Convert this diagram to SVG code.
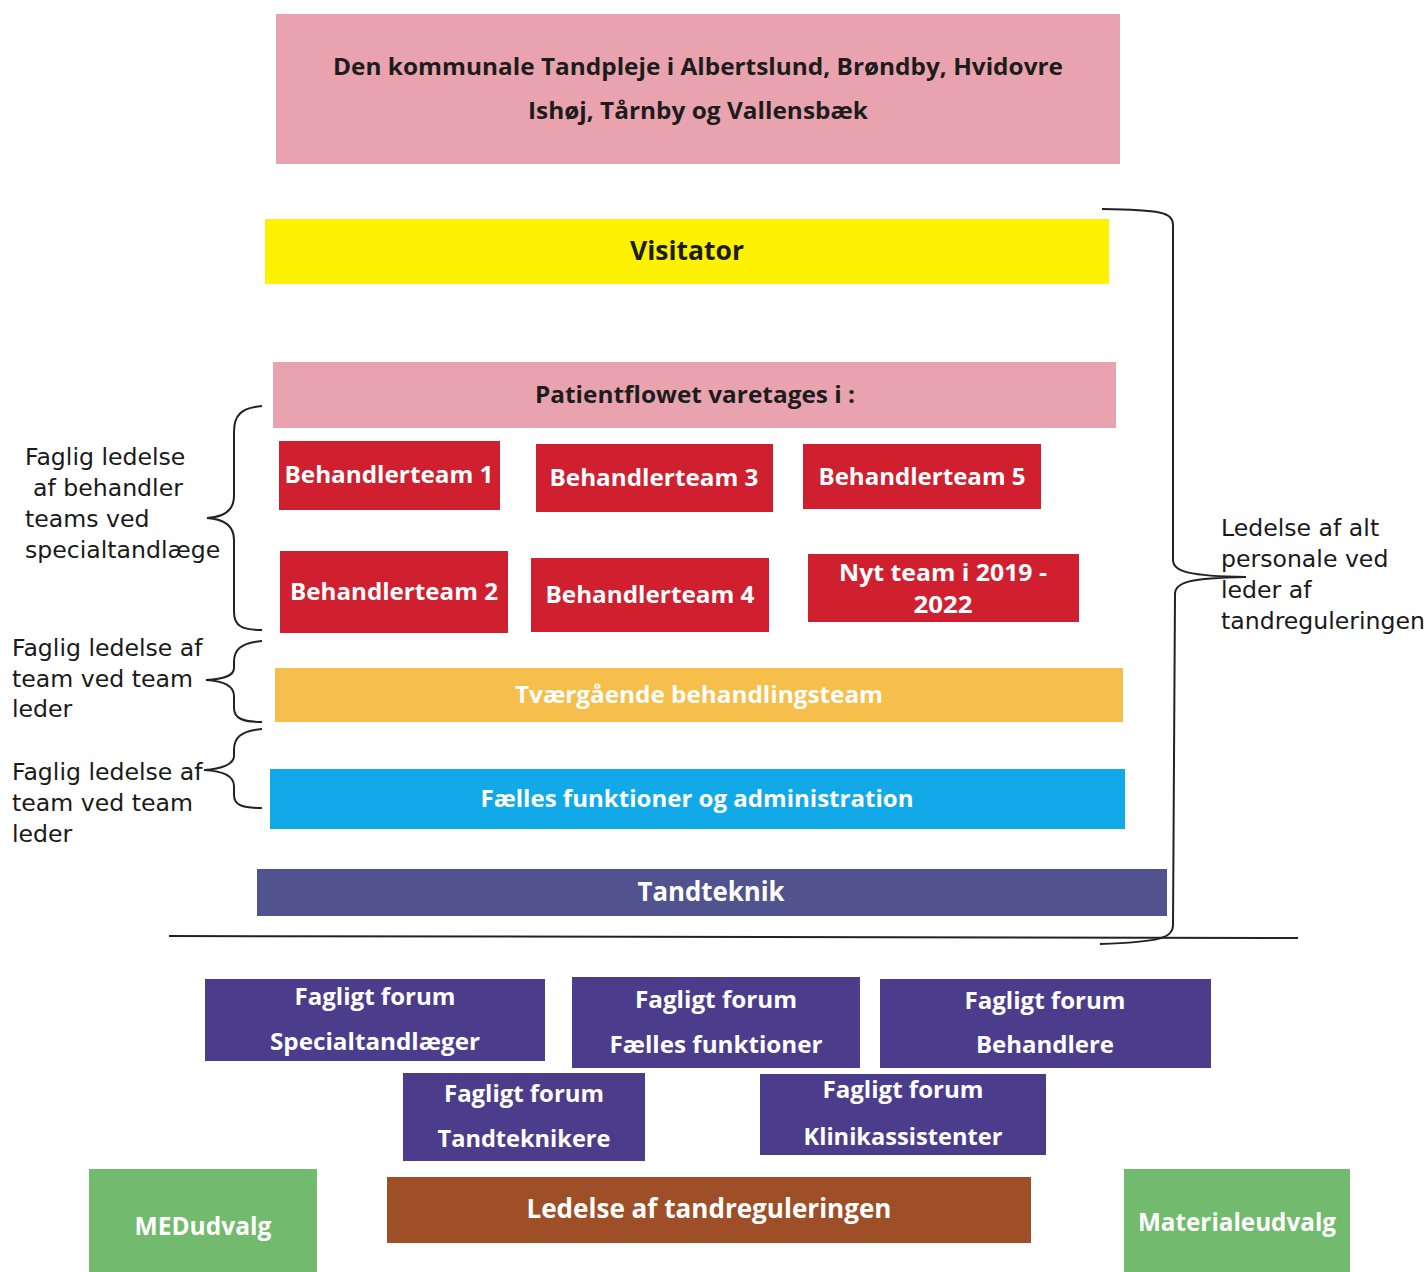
<svg xmlns="http://www.w3.org/2000/svg" width="1426" height="1272" viewBox="0 0 1426 1272">
<style>
.bx{font-family:"Open Sans","Liberation Sans",sans-serif;font-weight:700;text-anchor:middle}
.dk{fill:#1c1c1c}
.wh{fill:#ffffff}
.lbl{font-family:"DejaVu Sans","Liberation Sans",sans-serif;font-size:23.6px;fill:#1a1a1a}
.br{fill:none;stroke:#222;stroke-width:2}
.pur{fill:#4c3d8c}
.red{fill:#d0202f}
</style>
<rect width="1426" height="1272" fill="#ffffff"/>
<g id="connectors">
<path class="br" d="M262,406 C240,408 234,416 234,432 L234,496 C234,510 224,517 207,518 C224,519 234,526 234,540 L234,612 C234,626 242,630 262,630"/>
<path class="br" d="M262,641 C240,643 234,650 234,662 L234,668 C234,676 224,679 206,680 C224,681 234,686 234,696 L234,708 C234,718 242,722 262,722"/>
<path class="br" d="M262,729 C240,731 234,738 234,750 L234,756 C234,764 222,769 204,770 C222,771 234,776 234,786 L234,795 C234,805 242,808 262,808"/>
<path class="br" d="M1102,209 C1160,210 1173,212 1173,225 L1173,560 C1173,572 1190,576 1246,577 C1190,578 1175,582 1175,594 L1173,925 C1173,938 1160,942 1100,944"/>
<path class="br" d="M169,936 L1298,938"/>
</g>
<g id="top">
<rect x="276" y="14" width="844" height="150" fill="#e9a3ae"/>
<text class="bx dk" x="698" y="75" font-size="23" textLength="730" lengthAdjust="spacingAndGlyphs">Den kommunale Tandpleje i Albertslund, Brøndby, Hvidovre</text>
<text class="bx dk" x="698" y="119" font-size="23" textLength="340" lengthAdjust="spacingAndGlyphs">Ishøj, Tårnby og Vallensbæk</text>
</g>
<g id="visitator">
<rect x="265" y="219" width="844" height="65" fill="#fff200"/>
<text class="bx dk" x="687" y="260" font-size="27" textLength="114" lengthAdjust="spacingAndGlyphs">Visitator</text>
</g>
<g id="patientflow">
<rect x="273" y="362" width="843" height="66" fill="#e9a3ae"/>
<text class="bx dk" x="695" y="403" font-size="23" textLength="320" lengthAdjust="spacingAndGlyphs">Patientflowet varetages i :</text>
</g>
<g id="bt1">
<rect class="red" x="279" y="441" width="221" height="69"/>
<text class="bx wh" x="389" y="483" font-size="23" textLength="209" lengthAdjust="spacingAndGlyphs">Behandlerteam 1</text>
</g>
<g id="bt3">
<rect class="red" x="536" y="444" width="237" height="68"/>
<text class="bx wh" x="654" y="486" font-size="23" textLength="209" lengthAdjust="spacingAndGlyphs">Behandlerteam 3</text>
</g>
<g id="bt5">
<rect class="red" x="803" y="444" width="238" height="65"/>
<text class="bx wh" x="922" y="485" font-size="23" textLength="207" lengthAdjust="spacingAndGlyphs">Behandlerteam 5</text>
</g>
<g id="bt2">
<rect class="red" x="280" y="551" width="228" height="82"/>
<text class="bx wh" x="394" y="600" font-size="23" textLength="208" lengthAdjust="spacingAndGlyphs">Behandlerteam 2</text>
</g>
<g id="bt4">
<rect class="red" x="531" y="558" width="238" height="74"/>
<text class="bx wh" x="650" y="603" font-size="23" textLength="209" lengthAdjust="spacingAndGlyphs">Behandlerteam 4</text>
</g>
<g id="nyt">
<rect class="red" x="808" y="554" width="271" height="68"/>
<text class="bx wh" x="943" y="581" font-size="23" textLength="208" lengthAdjust="spacingAndGlyphs">Nyt team i 2019 -</text>
<text class="bx wh" x="943" y="613" font-size="23" textLength="59" lengthAdjust="spacingAndGlyphs">2022</text>
</g>
<g id="tvaer">
<rect x="275" y="668" width="848" height="54" fill="#f6be4b"/>
<text class="bx wh" x="699" y="703" font-size="23" textLength="368" lengthAdjust="spacingAndGlyphs">Tværgående behandlingsteam</text>
</g>
<g id="faelles">
<rect x="270" y="769" width="855" height="60" fill="#12a9e9"/>
<text class="bx wh" x="697" y="807" font-size="23" textLength="433" lengthAdjust="spacingAndGlyphs">Fælles funktioner og administration</text>
</g>
<g id="tandteknik">
<rect x="257" y="869" width="910" height="47" fill="#51538f"/>
<text class="bx wh" x="711" y="901" font-size="26" textLength="147" lengthAdjust="spacingAndGlyphs">Tandteknik</text>
</g>
<g id="ff-spec">
<rect class="pur" x="205" y="979" width="340" height="82"/>
<text class="bx wh" x="375" y="1005" font-size="24" textLength="161" lengthAdjust="spacingAndGlyphs">Fagligt forum</text>
<text class="bx wh" x="375" y="1050" font-size="24" textLength="210" lengthAdjust="spacingAndGlyphs">Specialtandlæger</text>
</g>
<g id="ff-faelles">
<rect class="pur" x="572" y="977" width="288" height="91"/>
<text class="bx wh" x="716" y="1008" font-size="24" textLength="162" lengthAdjust="spacingAndGlyphs">Fagligt forum</text>
<text class="bx wh" x="716" y="1053" font-size="24" textLength="213" lengthAdjust="spacingAndGlyphs">Fælles funktioner</text>
</g>
<g id="ff-beh">
<rect class="pur" x="880" y="979" width="331" height="89"/>
<text class="bx wh" x="1045" y="1009" font-size="24" textLength="161" lengthAdjust="spacingAndGlyphs">Fagligt forum</text>
<text class="bx wh" x="1045" y="1053" font-size="24" textLength="138" lengthAdjust="spacingAndGlyphs">Behandlere</text>
</g>
<g id="ff-tand">
<rect class="pur" x="403" y="1073" width="242" height="88"/>
<text class="bx wh" x="524" y="1102" font-size="24" textLength="160" lengthAdjust="spacingAndGlyphs">Fagligt forum</text>
<text class="bx wh" x="524" y="1147" font-size="24" textLength="173" lengthAdjust="spacingAndGlyphs">Tandteknikere</text>
</g>
<g id="ff-klinik">
<rect class="pur" x="760" y="1074" width="286" height="81"/>
<text class="bx wh" x="903" y="1098" font-size="24" textLength="161" lengthAdjust="spacingAndGlyphs">Fagligt forum</text>
<text class="bx wh" x="903" y="1145" font-size="24" textLength="199" lengthAdjust="spacingAndGlyphs">Klinikassistenter</text>
</g>
<g id="ledelse">
<rect x="387" y="1177" width="644" height="66" fill="#9e4f28"/>
<text class="bx wh" x="709" y="1218" font-size="26" textLength="365" lengthAdjust="spacingAndGlyphs">Ledelse af tandreguleringen</text>
</g>
<g id="med">
<rect x="89" y="1169" width="228" height="103" fill="#72ba6e"/>
<text class="bx wh" x="203" y="1235" font-size="25" textLength="137" lengthAdjust="spacingAndGlyphs">MEDudvalg</text>
</g>
<g id="materiale">
<rect x="1124" y="1169" width="226" height="103" fill="#72ba6e"/>
<text class="bx wh" x="1237" y="1231" font-size="25" textLength="198" lengthAdjust="spacingAndGlyphs">Materialeudvalg</text>
</g>
<g id="label-left1">
<text class="lbl" x="25" y="465">Faglig ledelse</text>
<text class="lbl" x="33" y="496">af behandler</text>
<text class="lbl" x="25" y="527">teams ved</text>
<text class="lbl" x="25" y="558">specialtandlæge</text>
</g>
<g id="label-left2">
<text class="lbl" x="12" y="656">Faglig ledelse af</text>
<text class="lbl" x="12" y="687">team ved team</text>
<text class="lbl" x="12" y="717">leder</text>
</g>
<g id="label-left3">
<text class="lbl" x="12" y="780">Faglig ledelse af</text>
<text class="lbl" x="12" y="811">team ved team</text>
<text class="lbl" x="12" y="842">leder</text>
</g>
<g id="label-right">
<text class="lbl" x="1221" y="536">Ledelse af alt</text>
<text class="lbl" x="1221" y="567">personale ved</text>
<text class="lbl" x="1221" y="598">leder af</text>
<text class="lbl" x="1221" y="629">tandreguleringen</text>
</g>
</svg>
